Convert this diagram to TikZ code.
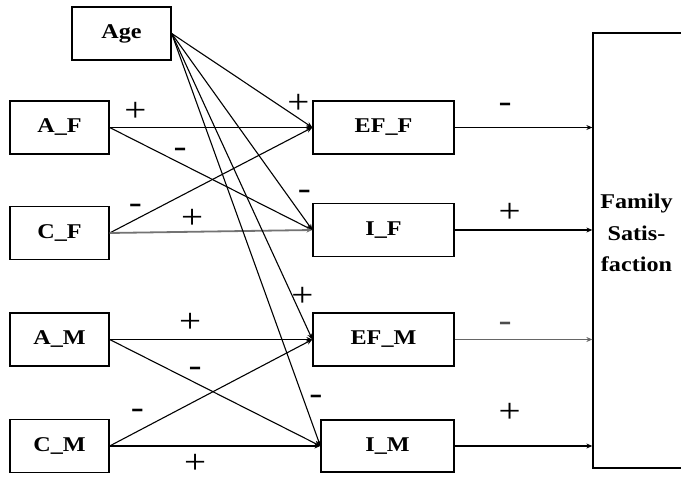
\documentclass[tikz,border=0pt]{standalone}
\usepackage{fontspec}
\setmainfont{Liberation Serif}
\newfontfamily\boxfont{Liberation Serif}[FakeStretch=1.15]
\usetikzlibrary{arrows.meta}
\tikzset{
  varbox/.style={draw, line width=1.3pt, inner sep=0pt, minimum height=53pt,
    font=\boxfont\bfseries\fontsize{21}{24}\selectfont},
  smallbox/.style={varbox, minimum width=99pt},
  midbox/.style={varbox, minimum width=141pt},
  lab/.style={inner sep=0pt, font=\boxfont\fontsize{34}{34}\selectfont},
  conn/.style={line width=1.1pt, -{Stealth[length=6pt,width=5pt]}},
  thinconn/.style={conn, line width=0.8pt},
  thickconn/.style={conn, line width=1.5pt},
}
\begin{document}
\begin{tikzpicture}[x=1pt,y=-1pt]
\useasboundingbox (0,0) rectangle (681,481);
\clip (0,0) rectangle (681,481);
% nodes
\node[smallbox] (age) at (121.5,33.5) {Age};
\node[smallbox] (af) at (59.5,127.5) {A\_F};
\node[smallbox] (cf) at (59.5,233) {C\_F};
\node[smallbox] (am) at (59.5,339.5) {A\_M};
\node[smallbox] (cm) at (59.5,446) {C\_M};
\node[midbox] (eff) at (383.5,127.5) {EF\_F};
\node[midbox] (if) at (383.5,230) {I\_F};
\node[midbox] (efm) at (383.5,339.5) {EF\_M};
\node[varbox, minimum width=133pt, minimum height=52pt] (im) at (387.5,446) {I\_M};
\node[draw, line width=1.3pt, inner sep=0pt, minimum width=110pt, minimum height=435pt] (fam) at (648,250.5) {};
\node[align=center, font=\boxfont\bfseries\fontsize{21}{31.5}\selectfont] (famtext) at (636.5,233) {Family\\Satis-\\faction};
% predictors to mediators
\draw[thinconn] (af.east) -- (eff.west) node[lab,pos=.127,yshift=15.5]{+};
\draw[conn] (af.east) -- (if.west) node[lab,pos=.348,yshift=10]{-};
\draw[conn] (cf.east) -- (eff.west) node[lab,pos=.127,yshift=10.6]{-};
\draw[conn, line width=1.8pt, black!55] (cf.east) -- (if.west) node[lab,black,pos=.407,yshift=13]{+};
\draw[conn] (age.east) -- (eff.west) node[lab,pos=.9,yshift=14]{+};
\draw[conn] (age.east) -- (if.west) node[lab,pos=.944,yshift=24]{-};
\draw[conn] (age.east) -- (efm.west) node[lab,pos=.93,yshift=21]{+};
\draw[conn] (age.east) -- (im.west) node[lab,pos=.889,xshift=12]{-};
\draw[thickconn] (am.east) -- (efm.west) node[lab,pos=.397,yshift=17]{+};
\draw[conn] (am.east) -- (im.west) node[lab,pos=.406,yshift=11]{-};
\draw[conn] (cm.east) -- (efm.west) node[lab,pos=.137,yshift=18]{-};
\draw[thickconn] (cm.east) -- (im.west) node[lab,pos=.406,yshift=-18]{+};
% mediators to outcome
\draw[thinconn] (eff.east) -- (fam.west |- eff.east) node[lab,pos=.367,yshift=20]{-};
\draw[thickconn] (if.east) -- (fam.west |- if.east) node[lab,pos=.40,yshift=17]{+};
\draw[conn, black!60] (efm.east) -- (fam.west |- efm.east) node[lab,black!70,pos=.367,yshift=13]{-};
\draw[thickconn] (im.east) -- (fam.west |- im.east) node[lab,pos=.40,yshift=33]{+};
\end{tikzpicture}
\end{document}
